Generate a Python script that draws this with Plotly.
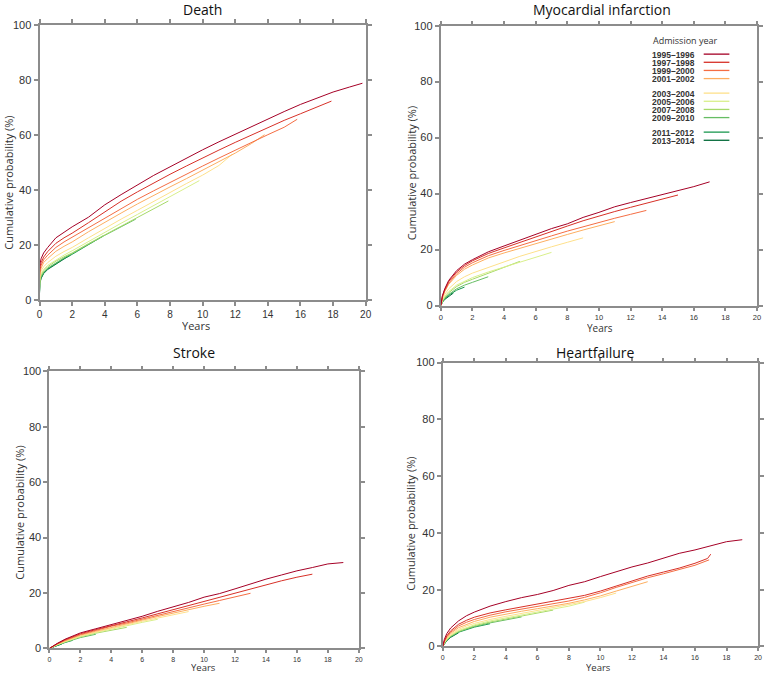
import plotly.graph_objects as go

W, H = 768, 677

# ---------------- data ----------------
cohorts = ["1995–1996", "1997–1998", "1999–2000", "2001–2002", "2003–2004",
           "2005–2006", "2007–2008", "2009–2010", "2011–2012", "2013–2014"]
colors = ["#a50026", "#d73027", "#f46d43", "#fdae61", "#fee08b",
          "#d9ef8b", "#a6d96a", "#66bd63", "#1a9850", "#006837"]

panel_titles = ["Death", "Myocardial infarction", "Stroke", "Heartfailure"]
x_ticks = [0, 2, 4, 6, 8, 10, 12, 14, 16, 18, 20]
y_ticks = [0, 20, 40, 60, 80, 100]

# Death
death_t = [
    [0, 0.02, 0.1, 0.25, 0.5, 1, 1.5, 2, 3, 4, 5, 6, 7, 8, 9, 10, 11, 12, 13, 14, 15, 16, 17, 18, 19, 19.8],
    [0, 0.02, 0.1, 0.25, 0.5, 1, 1.5, 2, 3, 4, 5, 6, 7, 8, 9, 10, 11, 12, 13, 14, 15, 16, 17, 17.9],
    [0, 0.02, 0.1, 0.25, 0.5, 1, 1.5, 2, 3, 4, 5, 6, 7, 8, 9, 10, 11, 12, 13, 14, 15, 15.8],
    [0, 0.02, 0.1, 0.25, 0.5, 1, 1.5, 2, 3, 4, 5, 6, 7, 8, 9, 10, 11, 12, 13, 13.8],
    [0, 0.02, 0.1, 0.25, 0.5, 1, 1.5, 2, 3, 4, 5, 6, 7, 8, 9, 10, 11, 11.8],
    [0, 0.02, 0.1, 0.25, 0.5, 1, 1.5, 2, 3, 4, 5, 6, 7, 8, 9, 9.8],
    [0, 0.02, 0.1, 0.25, 0.5, 1, 1.5, 2, 3, 4, 5, 6, 7, 7.9],
    [0, 0.02, 0.1, 0.25, 0.5, 1, 1.5, 2, 3, 4, 5, 5.9],
    [0, 0.02, 0.1, 0.25, 0.5, 1, 1.5, 2, 3, 3.9],
    [0, 0.02, 0.1, 0.25, 0.5, 1, 1.5, 1.9],
]
death_y = [
    [10, 13, 15, 17, 19, 22.5, 24.5, 26.5, 30, 34.5, 38.2, 41.8, 45.2, 48.3, 51.5, 54.5, 57.4, 60.2, 63, 65.7, 68.4, 71, 73.3, 75.5, 77.3, 78.7],
    [9, 12, 13.5, 15.5, 17.5, 20.5, 22.5, 24.2, 28, 32, 35.8, 39.2, 42.5, 45.6, 48.6, 51.6, 54.4, 57.2, 59.9, 62.6, 65.2, 67.6, 70, 72.2],
    [8, 11, 12.5, 14.5, 16.2, 19, 21, 22.7, 26.2, 29.8, 33.2, 36.5, 39.6, 42.7, 45.7, 48.6, 51.5, 54.4, 57.2, 60, 62.7, 65.6],
    [7, 10, 11.5, 13.5, 15, 17.6, 19.4, 21, 24.7, 28.2, 31.5, 34.8, 38, 41, 44, 47, 50.2, 53.3, 56.8, 60],
    [6, 9, 10.5, 12, 13.5, 15.8, 17.5, 19, 22.5, 26, 29.3, 32.5, 35.8, 39, 42.2, 45.3, 48.8, 52.8],
    [5, 8, 9.5, 11, 12.5, 14.5, 16.2, 17.8, 21.2, 24.6, 27.8, 31, 34.3, 37.5, 40.6, 43.3],
    [4, 7.5, 9, 10.5, 12, 14, 15.6, 17, 20.4, 23.6, 26.8, 29.9, 33, 35.9],
    [3.5, 7, 8.5, 10, 11.5, 13.5, 15.2, 16.8, 20.2, 23.4, 26.5, 29.3],
    [3, 6.5, 8, 9.8, 11.2, 13.2, 15, 16.5, 20, 23.2],
    [2.5, 6, 7.8, 9.5, 11, 13, 14.8, 16.2],
]

# Myocardial infarction
mi_t = [
    [0, 0.1, 0.25, 0.5, 1, 1.5, 2, 3, 4, 5, 6, 7, 8, 9, 10, 11, 12, 13, 14, 15, 16, 17],
    [0, 0.1, 0.25, 0.5, 1, 1.5, 2, 3, 4, 5, 6, 7, 8, 9, 10, 11, 12, 13, 14, 15],
    [0, 0.1, 0.25, 0.5, 1, 1.5, 2, 3, 4, 5, 6, 7, 8, 9, 10, 11, 12, 13],
    [0, 0.1, 0.25, 0.5, 1, 1.5, 2, 3, 4, 5, 6, 7, 8, 9, 10, 11],
    [0, 0.1, 0.25, 0.5, 1, 1.5, 2, 3, 4, 5, 6, 7, 8, 9],
    [0, 0.1, 0.25, 0.5, 1, 1.5, 2, 3, 4, 5, 6, 7],
    [0, 0.1, 0.25, 0.5, 1, 1.5, 2, 3, 4, 5],
    [0, 0.1, 0.25, 0.5, 1, 1.5, 2, 3],
    [0, 0.1, 0.25, 0.5, 1, 1.5],
    [0, 0.1, 0.25, 0.5, 0.8],
]
mi_y = [
    [0, 3.5, 6, 9, 12.5, 14.8, 16.4, 19.2, 21.3, 23.4, 25.6, 27.5, 29.2, 31.5, 33.3, 35.3, 36.8, 38.2, 39.8, 41, 42.5, 44.2],
    [0, 3.3, 5.7, 8.6, 12, 14.3, 16, 18.6, 20.6, 22.6, 24.5, 26.5, 28.4, 30.3, 32, 33.6, 35.1, 36.6, 38, 39.5],
    [0, 3, 5.3, 8, 11.4, 13.7, 15.3, 17.8, 19.7, 21.5, 23.2, 24.9, 26.6, 28.2, 29.7, 31.2, 32.6, 34],
    [0, 2.8, 5, 7.6, 10.8, 13, 14.5, 17, 18.8, 20.5, 22.1, 23.8, 25.4, 27, 28.5, 30],
    [0, 2.2, 4, 6, 8.6, 10.3, 11.6, 13.7, 15.6, 17.6, 19.4, 21, 22.6, 24.2],
    [0, 1.8, 3.3, 5, 7.3, 8.8, 10, 12, 13.8, 15.5, 17.2, 19],
    [0, 1.6, 3, 4.6, 6.8, 8.3, 9.4, 11.5, 13.5, 15.8],
    [0, 1.4, 2.6, 4, 6, 7.3, 8.3, 10.3],
    [0, 1.3, 2.4, 3.7, 5.5, 6.6],
    [0, 1.2, 2.2, 3.4, 4.5],
]

# Stroke
st_t = [
    [0, 0.25, 0.5, 1, 1.5, 2, 3, 4, 5, 6, 7, 8, 9, 10, 11, 12, 13, 14, 15, 16, 17, 18, 19],
    [0, 0.25, 0.5, 1, 1.5, 2, 3, 4, 5, 6, 7, 8, 9, 10, 11, 12, 13, 14, 15, 16, 17],
    [0, 0.25, 0.5, 1, 1.5, 2, 3, 4, 5, 6, 7, 8, 9, 10, 11, 12, 13],
    [0, 0.25, 0.5, 1, 1.5, 2, 3, 4, 5, 6, 7, 8, 9, 10, 11],
    [0, 0.25, 0.5, 1, 1.5, 2, 3, 4, 5, 6, 7, 8, 9],
    [0, 0.25, 0.5, 1, 1.5, 2, 3, 4, 5, 6, 7],
    [0, 0.25, 0.5, 1, 1.5, 2, 3, 4, 5],
    [0, 0.25, 0.5, 1, 1.5, 2, 3],
    [0, 0.25, 0.5, 1, 1.5],
    [0, 0.25, 0.5, 0.8],
]
st_y = [
    [0, 1, 1.8, 3.3, 4.5, 5.6, 7.1, 8.6, 10, 11.6, 13.4, 15, 16.6, 18.5, 19.8, 21.5, 23.3, 25, 26.5, 28, 29.2, 30.5, 31],
    [0, 0.9, 1.7, 3.1, 4.2, 5.3, 6.8, 8.3, 9.6, 11, 12.5, 14, 15.5, 17, 18.5, 20, 21.6, 23.1, 24.4, 25.7, 26.8],
    [0, 0.9, 1.6, 2.9, 4, 5, 6.5, 8, 9.2, 10.6, 12, 13.3, 14.7, 16, 17.3, 18.6, 19.9],
    [0, 0.8, 1.5, 2.7, 3.8, 4.8, 6.2, 7.6, 8.9, 10.2, 11.5, 12.8, 14, 15.2, 16.3],
    [0, 0.8, 1.4, 2.6, 3.6, 4.5, 5.9, 7.3, 8.5, 9.8, 11, 12.2, 13.3],
    [0, 0.7, 1.3, 2.4, 3.4, 4.3, 5.7, 7, 8.2, 9.4, 10.5],
    [0, 0.7, 1.3, 2.3, 3.3, 4.2, 5.5, 6.6, 7.6],
    [0, 0.7, 1.2, 2.2, 3.1, 3.9, 5.1],
    [0, 0.6, 1.1, 2.1, 2.9],
    [0, 0.5, 1, 1.6],
]

# Heart failure
hf_t = [
    [0, 0.1, 0.25, 0.5, 1, 1.5, 2, 3, 4, 5, 6, 7, 8, 9, 10, 11, 12, 13, 14, 15, 16, 17, 18, 19],
    [0, 0.1, 0.25, 0.5, 1, 1.5, 2, 3, 4, 5, 6, 7, 8, 9, 10, 11, 12, 13, 14, 15, 16, 16.8, 17],
    [0, 0.1, 0.25, 0.5, 1, 1.5, 2, 3, 4, 5, 6, 7, 8, 9, 10, 11, 12, 13, 14, 15, 16, 16.9],
    [0, 0.1, 0.25, 0.5, 1, 1.5, 2, 3, 4, 5, 6, 7, 8, 9, 10, 11, 12, 13],
    [0, 0.1, 0.25, 0.5, 1, 1.5, 2, 3, 4, 5, 6, 7, 8, 9, 10, 11],
    [0, 0.1, 0.25, 0.5, 1, 1.5, 2, 3, 4, 5, 6, 7, 8, 9],
    [0, 0.1, 0.25, 0.5, 1, 1.5, 2, 3, 4, 5, 6, 7],
    [0, 0.1, 0.25, 0.5, 1, 1.5, 2, 3, 4, 5],
    [0, 0.1, 0.25, 0.5, 1, 1.5, 2, 3],
    [0, 0.1, 0.25, 0.5, 1],
]
hf_y = [
    [0, 2.5, 4.5, 6.5, 9, 10.8, 12.1, 14.2, 15.8, 17.2, 18.3, 19.7, 21.5, 22.8, 24.6, 26.4, 28, 29.4, 31.1, 32.8, 34, 35.4, 36.9, 37.6],
    [0, 2, 3.7, 5.5, 7.8, 9.2, 10.3, 11.8, 12.9, 13.9, 14.9, 15.8, 16.8, 18, 19.5, 21.3, 23.2, 24.8, 26.2, 27.6, 29.3, 31, 32.5],
    [0, 1.8, 3.4, 5, 7.2, 8.5, 9.5, 11, 12.2, 13.2, 14.2, 15.1, 16, 17.3, 18.9, 20.8, 22.6, 24.2, 25.6, 27, 28.6, 30.5],
    [0, 1.6, 3, 4.6, 6.6, 7.8, 8.8, 10.3, 11.4, 12.4, 13.3, 14.2, 15.2, 16.4, 17.8, 19.5, 21.2, 22.8],
    [0, 1.4, 2.7, 4.2, 6, 7.2, 8.1, 9.5, 10.6, 11.6, 12.6, 13.6, 14.6, 15.8, 17.2, 18.8],
    [0, 1.3, 2.5, 3.9, 5.6, 6.7, 7.6, 9, 10, 11, 12, 13, 14.2, 15.6],
    [0, 1.2, 2.3, 3.7, 5.3, 6.4, 7.3, 8.6, 9.6, 10.6, 11.6, 12.8],
    [0, 1.1, 2.2, 3.5, 5.1, 6.2, 7, 8.3, 9.3, 10.4],
    [0, 1.1, 2.1, 3.4, 5, 6, 6.8, 8],
    [0, 1, 2, 3.2, 4.8],
]

panels_t = [death_t, mi_t, st_t, hf_t]
panels_y = [death_y, mi_y, st_y, hf_y]

# ---------------- layout helpers (pixel -> paper) ----------------
def fx(p):
    return p / W

def fy(p):
    return 1 - p / H

# plot boxes in pixels: left, right, top, bottom
boxes = [(37, 367, 19, 299), (443, 763, 20, 305), (47, 360, 372, 654), (445, 764, 363, 652)]
title_pos = [(202, 4), (606, 4), (193, 353), (600, 353)]
ytitle_pos = [(6, 180), (414, 170), (17, 516), (412, 527)]
xtitle_pos = [(195, 325), (604, 327), (203, 673.5), (603, 673.5)]
xtitle_size = [11, 10, 9.5, 9.5]
xtick_size = [10, 7.5, 7, 7]
xtick_len = [4, 3, 3, 3]

AX = "#8c8c8c"
TXT = "#333333"
TFONT = "Open Sans"

fig = go.Figure()

for p in range(4):
    xa = "x" if p == 0 else f"x{p+1}"
    ya = "y" if p == 0 else f"y{p+1}"
    # draw older cohorts last so red lines sit on top
    for i in reversed(range(len(cohorts))):
        fig.add_trace(go.Scatter(
            x=panels_t[p][i], y=panels_y[p][i], mode="lines",
            line=dict(color=colors[i], width=1.0),
            name=cohorts[i], showlegend=False, xaxis=xa, yaxis=ya,
            hoverinfo="name+x+y"))

layout = dict(width=W, height=H, margin=dict(l=0, r=0, t=0, b=0),
              plot_bgcolor="white", paper_bgcolor="white", showlegend=False)

for p in range(4):
    l, r, t, b = boxes[p]
    sx = "" if p == 0 else str(p + 1)
    layout[f"xaxis{sx}"] = dict(
        domain=[fx(l), fx(r)], range=[0, 20.001], tickvals=x_ticks,
        anchor=f"y{sx}", showgrid=False, zeroline=False,
        showline=True, linecolor=AX, linewidth=2, mirror="ticks",
        ticks="outside", ticklen=xtick_len[p], tickcolor=AX, tickwidth=1.5,
        ticklabeloverflow="allow",
        tickfont=dict(family="Liberation Sans", size=xtick_size[p], color=TXT))
    layout[f"yaxis{sx}"] = dict(
        domain=[fy(b), fy(t)], range=[0, 100], tickvals=y_ticks,
        anchor=f"x{sx}", showgrid=False, zeroline=False,
        showline=True, linecolor=AX, linewidth=2, mirror="ticks",
        ticks="outside", ticklen=4, tickcolor=AX, tickwidth=1.5,
        ticklabeloverflow="allow",
        tickfont=dict(family="Liberation Sans", size=11, color=TXT))

annotations = []
for p in range(4):
    tx, ty = title_pos[p]
    annotations.append(dict(text=panel_titles[p], x=fx(tx), y=fy(ty), xref="paper", yref="paper",
                            showarrow=False, xanchor="center", yanchor="middle",
                            font=dict(family=TFONT, size=14, color="#111111")))
    ax_, ay_ = ytitle_pos[p]
    annotations.append(dict(text="Cumulative probability (%)", x=fx(ax_), y=fy(ay_),
                            xref="paper", yref="paper", showarrow=False, textangle=-90,
                            xanchor="center", yanchor="middle",
                            font=dict(family=TFONT, size=11, color=TXT)))
    bx, by = xtitle_pos[p]
    annotations.append(dict(text="Years", x=fx(bx), y=fy(by), xref="paper", yref="paper",
                            showarrow=False, xanchor="center", yanchor="middle",
                            borderpad=0, height=9,
                            font=dict(family=TFONT, size=xtitle_size[p], color=TXT)))

# legend (inside the myocardial infarction panel)
annotations.append(dict(text="Admission year", x=fx(656), y=fy(35), xref="paper", yref="paper",
                        showarrow=False, xanchor="left", yanchor="middle",
                        font=dict(family=TFONT, size=9, color=TXT)))
shapes = []
group_sizes = [4, 4, 2]
idx = 0
for g, n in enumerate(group_sizes):
    for k in range(n):
        yy = 49 + idx * 8.3 + g * 6.5
        annotations.append(dict(text=f"<b>{cohorts[idx]}</b>", x=fx(656), y=fy(yy), xref="paper",
                                yref="paper", showarrow=False, xanchor="left", yanchor="middle",
                                height=7, borderpad=0,
                                font=dict(family="Liberation Sans Narrow, Liberation Sans", size=8.5, color=TXT)))
        shapes.append(dict(type="line", xref="paper", yref="paper", x0=fx(709), x1=fx(735),
                           y0=fy(yy), y1=fy(yy), line=dict(color=colors[idx], width=1.3)))
        idx += 1

layout["annotations"] = annotations
layout["shapes"] = shapes
fig.update_layout(**layout)
fig.write_html("out.html", config={"displayModeBar": False},
               post_script="document.body.style.margin='0';document.body.style.overflow='hidden';")
